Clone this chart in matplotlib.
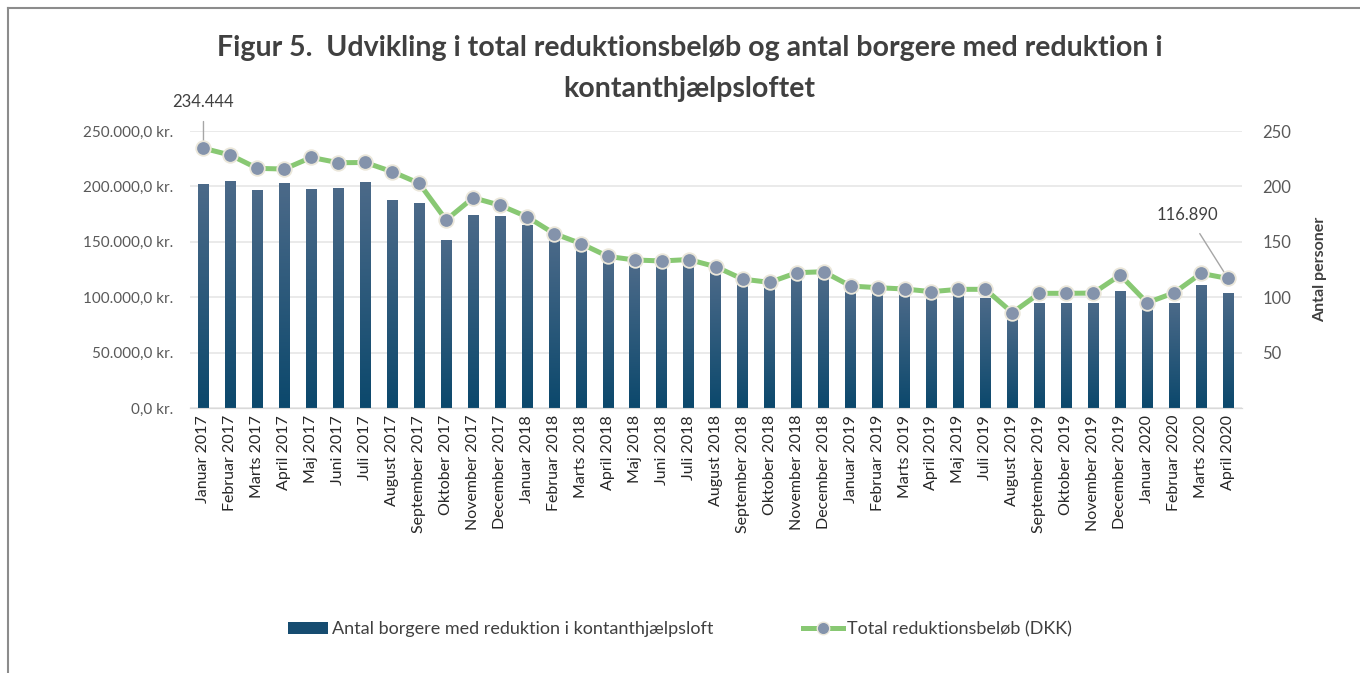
import matplotlib
matplotlib.use("Agg")
import matplotlib.pyplot as plt
import numpy as np
from matplotlib.colors import LinearSegmentedColormap
from matplotlib.lines import Line2D
from matplotlib.patches import Patch

plt.rcParams['font.family'] = ['Lato', 'DejaVu Sans']

# data
months = ["Januar 2017", "Februar 2017", "Marts 2017", "April 2017", "Maj 2017", "Juni 2017",
          "Juli 2017", "August 2017", "September 2017", "Oktober 2017", "November 2017",
          "December 2017", "Januar 2018", "Februar 2018", "Marts 2018", "April 2018",
          "Maj 2018", "Juni 2018", "Juli 2018", "August 2018", "September 2018",
          "Oktober 2018", "November 2018", "December 2018", "Januar 2019", "Februar 2019",
          "Marts 2019", "April 2019", "Maj 2019", "Juli 2019", "August 2019",
          "September 2019", "Oktober 2019", "November 2019", "December 2019",
          "Januar 2020", "Februar 2020", "Marts 2020", "April 2020"]
antal = [202, 205, 197, 203, 198, 199, 204, 188, 185, 152, 174, 173, 165, 154, 144, 133,
         129, 129, 129, 123, 112, 108, 117, 118, 105, 104, 103, 99, 102, 99, 82, 95, 95,
         95, 106, 91, 95, 111, 104]
belob = [234444, 228300, 216300, 215700, 226200, 221400, 221600, 213300, 202800, 169700,
         189800, 183000, 172600, 157500, 148400, 136800, 133600, 132700, 134000, 127500,
         116300, 113400, 122100, 123000, 110100, 108600, 107400, 105000, 107100, 107100,
         86000, 103500, 103500, 103700, 120000, 95000, 104000, 121500, 116890]

x = np.arange(len(months))

fig = plt.figure(figsize=(13.6, 6.73), dpi=100)
ax = fig.add_axes([0.1397, 0.3938, 0.7732, 0.4115])
ax2 = ax.twinx()
ax.set_zorder(2)
ax2.set_zorder(1)
ax.patch.set_visible(False)

# bars with vertical gradient
cmap = LinearSegmentedColormap.from_list("bar", ["#0b486c", "#4c6a89"])
bars = ax2.bar(x, antal, width=0.4, color="#0f4a6e", zorder=2)
grad = np.linspace(0, 1, 256).reshape(-1, 1)
for b in bars:
    x0 = b.get_x()
    h = b.get_height()
    im = ax2.imshow(grad, extent=[x0, x0 + b.get_width(), 0, h], origin="lower",
                    aspect="auto", cmap=cmap, zorder=3)
    im.set_clip_path(b)

ax2.set_ylim(0, 250)
ax2.set_yticks([0, 50, 100, 150, 200, 250])
ax2.set_yticklabels(["", "50", "100", "150", "200", "250"])
ax2.grid(axis="y", color="#e6e6e6", linewidth=1.2, zorder=0)
ax2.set_axisbelow(True)
ax2.tick_params(axis="y", length=0, pad=15, labelsize=12, labelcolor="#595959")
ax2.set_ylabel("Antal personer", fontsize=11.5, fontweight="bold", color="#404040", labelpad=16)

# line
ax.plot(x, belob, color="#88c873", linewidth=3.6, marker="o", markersize=10.5,
        markerfacecolor="#8493ab", markeredgecolor="#ebe7da", markeredgewidth=1.3, zorder=5)
ax.set_ylim(0, 250000)
ax.set_xlim(-0.5, len(months) - 0.5)
ax.set_yticks([0, 50000, 100000, 150000, 200000, 250000])


def dk(v):
    s = f"{v:,.1f}".replace(",", "X").replace(".", ",").replace("X", ".")
    return s + " kr."


ax.set_yticklabels([dk(v) for v in ax.get_yticks()])
ax.tick_params(axis="y", length=0, pad=12, labelsize=11, labelcolor="#595959")
ax.set_xticks(x)
ax.set_xticklabels(months, rotation=90, fontsize=11.5, color="#262626")
ax.tick_params(axis="x", length=0, pad=5)

for a in (ax, ax2):
    for s in ("top", "left", "right"):
        a.spines[s].set_visible(False)
    a.spines["bottom"].set_color("#d9d9d9")

# annotations
ax.annotate("234.444", xy=(x[0], belob[0]), xytext=(0, 33), textcoords="offset points",
            ha="center", va="center", fontsize=12, color="#404040",
            arrowprops=dict(arrowstyle="-", color="#a6a6a6", lw=1, shrinkA=6, shrinkB=4))
ax.annotate("116.890", xy=(x[-1], belob[-1]), xytext=(-29, 46), textcoords="offset points",
            ha="center", va="center", fontsize=12, color="#404040",
            arrowprops=dict(arrowstyle="-", color="#a6a6a6", lw=1, shrinkA=7, shrinkB=4))

fig.text(0.507, 0.929, "Figur 5.  Udvikling i total reduktionsbeløb og antal borgere med reduktion i",
         ha="center", va="center", fontsize=20.5, fontweight="bold", color="#404040")
fig.text(0.507, 0.868, "kontanthjælpsloftet",
         ha="center", va="center", fontsize=20.5, fontweight="bold", color="#404040")

handles = [Patch(facecolor="#164c70", edgecolor="none"),
           Line2D([0], [0], color="#88c873", linewidth=3.6, marker="o", markersize=9,
                  markerfacecolor="#8493ab", markeredgecolor="#ebe7da")]
fig.legend(handles, ["Antal borgere med reduktion i kontanthjælpsloft", "Total reduktionsbeløb (DKK)"],
           loc="center", bbox_to_anchor=(0.5, 0.065), ncol=2, frameon=False, fontsize=13,
           labelcolor="#404040", handlelength=2.2, handletextpad=0.2, columnspacing=5)

# frame border (top and left)
fig.add_artist(Line2D([0.006, 1.0], [0.988, 0.988], color="#8c8c8c", lw=1.5, transform=fig.transFigure))
fig.add_artist(Line2D([0.006, 0.006], [0.0, 0.988], color="#8c8c8c", lw=1.5, transform=fig.transFigure))

fig.savefig("out.png", dpi=100)
